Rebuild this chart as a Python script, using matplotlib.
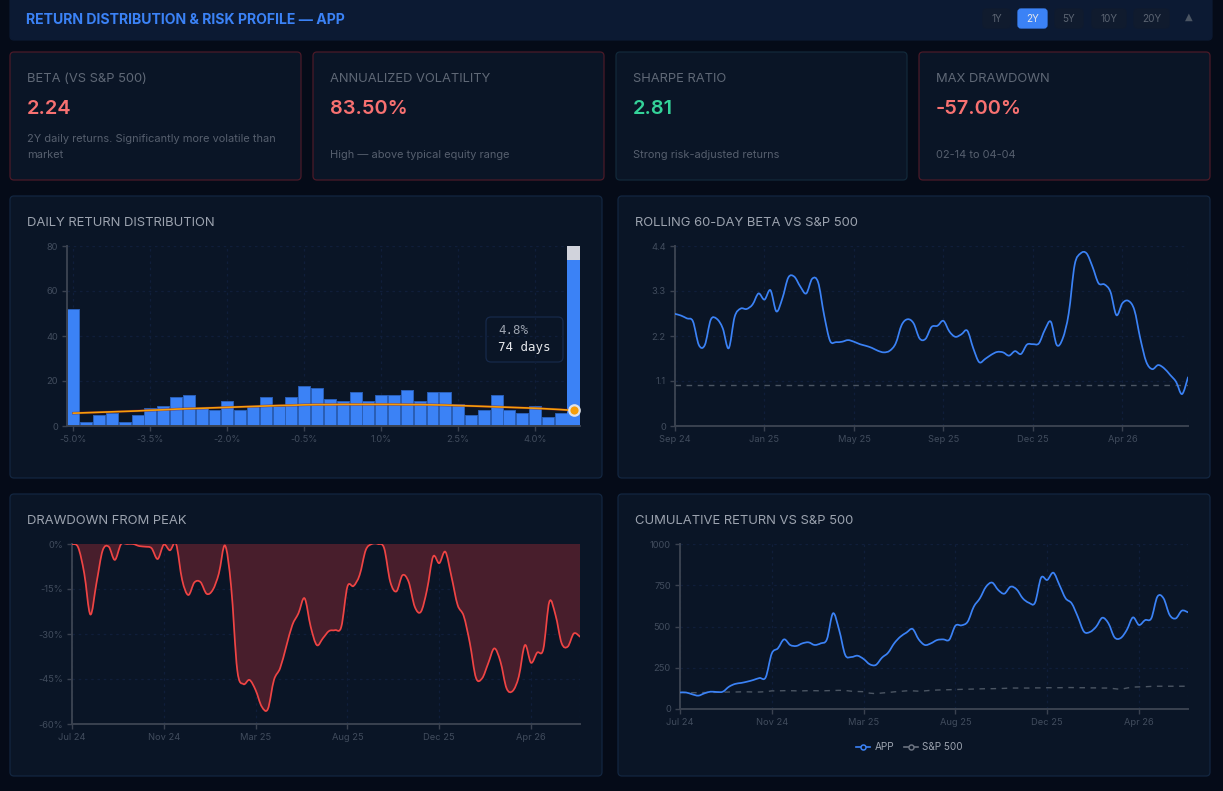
import matplotlib
matplotlib.use("Agg")
import matplotlib.pyplot as plt
from matplotlib.lines import Line2D
from matplotlib.patches import FancyBboxPatch, PathPatch, Rectangle
from matplotlib.path import Path

W, H = 1223, 791
plt.rcParams['font.family'] = ['Inter', 'DejaVu Sans']

# --- data ---
hist_labels = ['-5.0%', '-3.5%', '-2.0%', '-0.5%', '1.0%', '2.5%', '4.0%']
hist_days = [52, 2, 5, 6, 2, 5, 8, 9, 13, 14, 8, 7, 11, 7, 9, 13, 9, 13, 18, 17,
             12, 11, 15, 11, 14, 14, 16, 11, 15, 15, 10, 5, 7, 14, 7, 6, 9, 4, 6, 74]
hist_normal = [5.7, 5.9, 6.1, 6.3, 6.5, 6.7, 7.0, 7.2, 7.5, 7.7, 7.9, 8.1, 8.3, 8.5,
               8.7, 8.9, 9.1, 9.2, 9.4, 9.5, 9.5, 9.6, 9.6, 9.6, 9.6, 9.6, 9.5, 9.5,
               9.4, 9.3, 9.1, 8.9, 8.7, 8.5, 8.3, 8.1, 7.9, 7.6, 7.3, 6.9]

beta_labels = ['Sep 24', 'Jan 25', 'May 25', 'Sep 25', 'Dec 25', 'Apr 26']
beta = [2.74, 2.70, 2.63, 2.56, 1.98, 1.98, 2.60, 2.62, 2.39, 1.90, 2.67, 2.87, 2.86,
        2.97, 3.24, 3.09, 3.32, 2.80, 3.12, 3.63, 3.65, 3.41, 3.24, 3.60, 3.51, 2.71,
        2.08, 2.05, 2.06, 2.10, 2.06, 2.00, 1.96, 1.91, 1.84, 1.80, 1.84, 2.02, 2.47,
        2.61, 2.51, 2.14, 2.13, 2.42, 2.45, 2.57, 2.31, 2.18, 2.24, 2.33, 1.90, 1.56,
        1.64, 1.74, 1.81, 1.80, 1.72, 1.83, 1.76, 1.99, 2.00, 2.02, 2.35, 2.55, 1.98,
        2.14, 2.75, 3.94, 4.22, 4.22, 3.89, 3.49, 3.46, 3.28, 2.71, 3.00, 3.06, 2.84,
        2.14, 1.57, 1.39, 1.49, 1.41, 1.25, 1.08, 0.78, 1.19]
beta_market = 1.0

date_labels = ['Jul 24', 'Nov 24', 'Mar 25', 'Aug 25', 'Dec 25', 'Apr 26']
drawdown = [0, -1.1, -9.8, -23.5, -13, -2.2, -0.9, -5.3, -0.1, 0, 0, -0.7, -0.9, -1.4,
            -5, -0.2, -2.1, 0, -12, -17, -12.8, -12.7, -16.6, -15.3, -9.8, -0.5, -14.2,
            -42, -46.7, -45.3, -48.7, -54.2, -55, -45.3, -41.4, -34.2, -27, -23.1, -18.1,
            -27.6, -33.7, -31.4, -29, -28.7, -27.6, -14.2, -14, -10.3, -2, 0, 0, -1.4,
            -12.6, -15.8, -10.4, -12.6, -20.9, -22.6, -15.3, -4.2, -6.4, -2.6, -10.9,
            -20.3, -24, -33, -44.6, -44.8, -39.8, -34.8, -39.2, -48.1, -49, -44.2, -33.7,
            -39.6, -36.2, -35.1, -19.2, -23.7, -33.1, -34.2, -29.8, -30.9]

cum_app = [100, 100, 89, 81, 95, 105, 103, 105, 135, 152, 158, 166, 176, 188, 192, 337,
           368, 422, 388, 382, 398, 404, 388, 398, 422, 580, 479, 327, 315, 323, 303,
           271, 267, 311, 341, 398, 438, 463, 485, 422, 388, 398, 418, 422, 420, 505,
           507, 529, 620, 671, 741, 766, 721, 699, 741, 725, 671, 644, 644, 796, 782,
           826, 751, 671, 640, 559, 469, 467, 499, 553, 519, 434, 430, 479, 555, 509,
           539, 549, 681, 671, 570, 549, 596, 586]
cum_spx = [100, 100, 99, 99, 100, 100, 101, 102, 103, 103, 104, 104, 103, 103, 105, 110,
           110, 111, 111, 110, 110, 111, 111, 110, 111, 112, 113, 112, 108, 106, 105, 96,
           93, 97, 100, 104, 107, 110, 110, 108, 110, 113, 115, 116, 117, 118, 119, 120,
           121, 122, 123, 123, 124, 125, 127, 127, 127, 127, 128, 128, 129, 129, 129,
           130, 130, 129, 129, 128, 128, 127, 127, 123, 119, 127, 133, 134, 135, 137,
           138, 138, 138, 138, 138, 138]

range_buttons = ['1Y', '2Y', '5Y', '10Y', '20Y']
kpi_labels = ['BETA (VS S&P 500)', 'ANNUALIZED VOLATILITY', 'SHARPE RATIO', 'MAX DRAWDOWN']
kpi_values = ['2.24', '83.50%', '2.81', '-57.00%']
kpi_notes = ['2Y daily returns. Significantly more volatile than\nmarket',
             'High — above typical equity range', 'Strong risk-adjusted returns',
             '02-14 to 04-04']

# --- colours ---
PAGE = '#050b18'
HEADER = '#0c1a33'
CARD = '#0a1526'
BLUE = '#3b82f6'
RED = '#f87171'
GREEN = '#34d399'
AXIS = '#3a4250'
TICK = '#414c5d'
GRID = '#101e3a'
LABEL = '#5f6876'
NOTE = '#565f6e'
TITLE = '#9ca3af'


def px(v):
    return v * 72 / 100


fig = plt.figure(figsize=(W / 100, H / 100), dpi=100, facecolor=PAGE)
bg = fig.add_axes([0, 0, 1, 1])
bg.set_xlim(0, W)
bg.set_ylim(H, 0)
bg.axis('off')


def card(x0, y0, x1, y1, face=CARD, edge='#132640', r=4):
    bg.add_patch(FancyBboxPatch((x0 + r, y0 + r), x1 - x0 - 2 * r, y1 - y0 - 2 * r,
                                boxstyle=f'round,pad={r},rounding_size={r}',
                                fc=face, ec=edge, lw=0.9))


# header strip
card(10, -10, 1212, 40, face=HEADER, edge=HEADER)
bg.text(26, 20, 'RETURN DISTRIBUTION & RISK PROFILE — APP', color=BLUE, weight='bold',
        fontsize=px(14.1), va='center')
btn_x = [(983, 1010), (1018, 1047), (1055, 1083), (1092, 1126), (1134, 1169)]
for lab, (a, b) in zip(range_buttons, btn_x):
    on = lab == '2Y'
    card(a, 9, b, 28, face=BLUE if on else '#101b2e', edge=BLUE if on else '#101b2e', r=3)
    bg.text((a + b) / 2, 18.5, lab, color='#e5e7eb' if on else '#5b6472', fontsize=px(10),
            ha='center', va='center')
bg.text(1189, 17, '▲', color='#4b5563', fontsize=px(10), ha='center', va='center',
        family=['DejaVu Sans'])

# kpi cards
kpi_x = [(10, 301), (313, 604), (616, 907), (919, 1210)]
kpi_edge = ['#4a1a28', '#4a1a28', '#12293a', '#4a1a28']
kpi_col = [RED, RED, GREEN, RED]
for i in range(4):
    a, b = kpi_x[i]
    card(a, 52, b, 180, edge=kpi_edge[i])
    bg.text(a + 17, 78.5, kpi_labels[i], color=LABEL, fontsize=px(12.95), va='center')
    bg.text(a + 17, 109, kpi_values[i], color=kpi_col[i], fontsize=px(20), weight='semibold',
            va='center')
    note = kpi_notes[i].split('\n')
    if len(note) == 2:
        bg.text(a + 17, 138.5, note[0], color=NOTE, fontsize=px(11), va='center')
    bg.text(a + 17, 155.5, note[-1], color=NOTE, fontsize=px(11), va='center')

# chart panels
panels = [(10, 196, 602, 478, 'DAILY RETURN DISTRIBUTION'),
          (618, 196, 1210, 478, 'ROLLING 60-DAY BETA VS S&P 500'),
          (10, 494, 602, 776, 'DRAWDOWN FROM PEAK'),
          (618, 494, 1210, 776, 'CUMULATIVE RETURN VS S&P 500')]
for x0, y0, x1, y1, name in panels:
    card(x0, y0, x1, y1)
    bg.text(x0 + 17, y0 + 26.5, name, color=TITLE, fontsize=px(13), va='center')


def chart_axes(l, t, r, b):
    ax = fig.add_axes([l / W, 1 - b / H, (r - l) / W, (b - t) / H])
    ax.patch.set_alpha(0)
    for s in ['top', 'right']:
        ax.spines[s].set_visible(False)
    for s in ['left', 'bottom']:
        ax.spines[s].set_color(AXIS)
        ax.spines[s].set_linewidth(1.4)
    ax.tick_params(colors=AXIS, labelcolor=TICK, labelsize=px(9.3), length=3.6, width=1, pad=3)
    ax.set_axisbelow(True)
    ax.grid(True, color=GRID, lw=0.9, ls=(0, (2, 3)))
    return ax


def smooth_verts(x, y):
    # catmull-rom through the points, like the rounded lines in the original
    verts = [(x[0], y[0])]
    codes = [Path.MOVETO]
    n = len(x)
    for i in range(n - 1):
        p0 = max(i - 1, 0)
        p3 = min(i + 2, n - 1)
        verts.append((x[i] + (x[i + 1] - x[p0]) / 6, y[i] + (y[i + 1] - y[p0]) / 6))
        verts.append((x[i + 1] - (x[p3] - x[i]) / 6, y[i + 1] - (y[p3] - y[i]) / 6))
        verts.append((x[i + 1], y[i + 1]))
        codes += [Path.CURVE4] * 3
    return verts, codes


def smooth_line(ax, y, color, lw=1.25, zorder=3):
    x = list(range(len(y)))
    verts, codes = smooth_verts(x, y)
    ax.add_patch(PathPatch(Path(verts, codes), fc='none', ec=color, lw=lw, zorder=zorder,
                           capstyle='round', joinstyle='round'))
    return x


def date_axis(ax, y, labels):
    last = len(y) - 1
    ax.set_xlim(0, last)
    ticks = [i * 15 for i in range(len(labels))]
    ax.set_xticks(ticks, labels)
    ax.axvline(last, color=GRID, lw=0.9, ls=(0, (2, 3)), zorder=1)


# histogram
ax1 = chart_axes(67, 246, 580, 426)
pos = list(range(len(hist_days)))
ax1.set_xlim(-0.5, len(hist_days) - 0.5)
ax1.set_ylim(0, 80)
ax1.set_yticks([0, 20, 40, 60, 80])
ax1.set_xticks(pos[::6][:len(hist_labels)], hist_labels)
ax1.add_patch(Rectangle((38.5, 0), 1, 80, fc='#d1d3dc', ec='none', zorder=1.5))
ax1.bar(pos, hist_days, width=0.93, color=BLUE, edgecolor='#2a5fb8', lw=0.7, zorder=2)
ax1.bar(pos[-1], hist_days[-1], width=0.96, color=BLUE, edgecolor='none', zorder=2.1)
ax1.plot(pos, hist_normal, color='#7f1d1d', lw=1.8, alpha=0.7, zorder=3)
ax1.plot(pos, hist_normal, color='#f59e0b', lw=1.2, zorder=3.1)
ax1.plot(pos[-1], hist_normal[-1], 'o', ms=7.5, mfc='#f59e0b', mec='#dfe3ea', mew=1.6,
         zorder=4, clip_on=False)
card(486, 317, 563, 362, face='#0a1526', edge='#16294a', r=5)

# rolling beta
ax2 = chart_axes(675, 246, 1188, 426)
ax2.set_ylim(0, 4.4)
ax2.set_yticks([0, 1.1, 2.2, 3.3, 4.4], ['0', '1.1', '2.2', '3.3', '4.4'])
date_axis(ax2, beta, beta_labels)
ax2.plot([0, len(beta) - 1], [beta_market, beta_market], color='#4b5563', lw=1.0,
         ls=(0, (4, 4)), zorder=2)
smooth_line(ax2, beta, BLUE)

# drawdown
ax3 = chart_axes(72, 544, 580, 724)
ax3.set_ylim(-60, 0)
ax3.set_yticks([-60, -45, -30, -15, 0], ['-60%', '-45%', '-30%', '-15%', '0%'])
date_axis(ax3, drawdown, date_labels)
dd_x = list(range(len(drawdown)))
dd_verts, dd_codes = smooth_verts(dd_x, drawdown)
ax3.add_patch(PathPatch(Path(dd_verts + [(dd_x[-1], 0), (0, 0), (0, 0)],
                             dd_codes + [Path.LINETO, Path.LINETO, Path.CLOSEPOLY]),
                        fc='#481e2c', ec='none', zorder=2))
smooth_line(ax3, drawdown, '#ef4444')

# cumulative return
ax4 = chart_axes(680, 544, 1188, 709)
ax4.set_ylim(0, 1000)
ax4.set_yticks([0, 250, 500, 750, 1000])
date_axis(ax4, cum_app, date_labels)
ax4.plot(range(len(cum_spx)), cum_spx, color='#4b5563', lw=1.0, ls=(0, (4, 4)), zorder=2)
smooth_line(ax4, cum_app, BLUE)

handles = [Line2D([], [], color=BLUE, lw=1.2, marker='o', ms=3.6, mfc=CARD, mec=BLUE, mew=1.1),
           Line2D([], [], color='#6b7280', lw=1.2, marker='o', ms=3.6, mfc=CARD, mec='#6b7280', mew=1.1)]
fig.legend(handles, ['APP', 'S&P 500'], loc='center', bbox_to_anchor=(909.5 / W, 1 - 747 / H),
           ncols=2, frameon=False, fontsize=px(10), labelcolor=TITLE, handlelength=1.4,
           columnspacing=1.0, handletextpad=0.4)

# tooltip text goes on top of the histogram
top = fig.add_axes([0, 0, 1, 1])
top.set_xlim(0, W)
top.set_ylim(H, 0)
top.axis('off')
top.text(498, 331, '4.8%', color=TITLE, fontsize=px(12.5), va='center', family=['DejaVu Sans Mono'])
top.text(498, 347, '74 days', color='#e5e7eb', fontsize=px(12.5), va='center', family=['DejaVu Sans Mono'])

fig.savefig('out.png', dpi=100, facecolor=PAGE)
